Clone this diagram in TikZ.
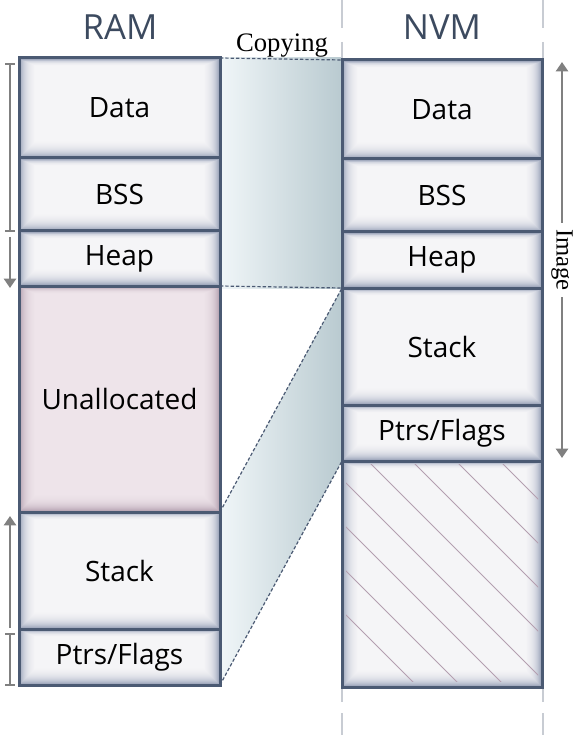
\documentclass[tikz,border=0pt]{standalone}
\usepackage{fontspec}
\setmainfont{Liberation Serif}
\newfontfamily\boxfont{Open Sans}
\usetikzlibrary{arrows.meta,backgrounds}
\definecolor{edge}{HTML}{4B5A73}
\definecolor{hdr}{HTML}{3C4A5F}
\definecolor{basec}{HTML}{A3ABBF}
\definecolor{pinkbase}{HTML}{BBA9B7}
\definecolor{pinkin}{HTML}{F6ECF1}
\definecolor{bandL}{HTML}{F0F6F8}
\definecolor{bandR}{HTML}{B9CAD0}
\definecolor{arr}{HTML}{808080}
\definecolor{hatchc}{HTML}{B49FB0}
\definecolor{guide}{HTML}{C8CCD3}
\tikzset{
  glow/.style={path picture={
    \foreach \k in {1,...,16}{
      \fill[#1,opacity=0.15]
        ([xshift=1.1pt+\k*0.7pt,yshift=-1.1pt-\k*0.3pt]path picture bounding box.north west)
        rectangle ([xshift=-1.1pt-\k*0.7pt,yshift=1.1pt+\k*0.75pt]path picture bounding box.south east);
    }}},
  membox/.style={draw=edge, line width=2.25pt, fill=basec, inner sep=0pt, outer sep=0pt,
    font=\boxfont\fontsize{21}{25}\selectfont, glow=white},
  ramcol/.style={membox, minimum width={201*0.75pt}},
  nvmcol/.style={membox, minimum width={200*0.75pt}},
  ht/.style={minimum height={#1*0.75pt}},
  hdrtext/.style={font=\boxfont\fontsize{26}{30}\selectfont, text=hdr, inner sep=0pt},
  serlabel/.style={font=\fontsize{18.5}{22}\selectfont, text=black},
  garrow/.style={draw=arr, line width=2.2pt},
  copyline/.style={draw=edge, line width=0.9pt, dash pattern=on 2.5pt off 1.5pt},
  guideline/.style={draw=guide, line width=1.5pt},
  hatchline/.style={draw=hatchc, line width=0.7pt},
}
\begin{document}
\begin{tikzpicture}[x=0.75pt,y=-0.75pt]
\useasboundingbox (0,0) rectangle (579,741);

% guide lines
\foreach \gx in {342,543}{
  \draw[guideline] (\gx,0) -- (\gx,28);
  \draw[guideline] (\gx,42) -- (\gx,60);
  \draw[guideline] (\gx,688) -- (\gx,702);
  \draw[guideline] (\gx,713) -- (\gx,735);
}

% headers
\node[hdrtext, anchor=base] (ramh) at (120,40) {RAM};
\node[hdrtext, anchor=base] (nvmh) at (442,40) {NVM};
\node[serlabel, font=\fontsize{20}{24}\selectfont, anchor=base, inner sep=0pt] (copy) at (282,52) {Copying};

% RAM column
\node[ramcol, ht=100] (rData) at (119.5,108) {Data};
\node[ramcol, ht=73] (rBss) at (119.5,194.5) {BSS};
\node[ramcol, ht=55] (rHeap) at (119.5,258.5) {Heap};
\node[ramcol, ht=226, fill=pinkbase, glow=pinkin] (rUnal) at (119.5,399) {Unallocated};
\node[ramcol, ht=117] (rStack) at (119.5,570.5) {Stack};
\node[ramcol, ht=56] (rPtr) at (119.5,657) {Ptrs/Flags};

% NVM column
\node[nvmcol, ht=99] (nData) at (442,109.5) {Data};
\node[nvmcol, ht=73] (nBss) at (442,195.5) {BSS};
\node[nvmcol, ht=56] (nHeap) at (442,260) {Heap};
\node[nvmcol, ht=117] (nStack) at (442,346.5) {Stack};
\node[nvmcol, ht=56] (nPtr) at (442,433) {Ptrs/Flags};
\node[nvmcol, ht=226] (nFree) at (442,574) {};

% hatching
\begin{scope}
  \clip ([xshift=3pt,yshift=-2.5pt]nFree.north west) rectangle ([xshift=-3pt,yshift=4pt]nFree.south east);
  \foreach \c in {39,-5,-49,-93,-137,-181,-225,-269}
    \draw[hatchline] (300,300-\c) -- (700,700-\c);
\end{scope}

% copying bands
\begin{scope}[on background layer]
  \shade[left color=bandL, right color=bandR] (rData.north east) rectangle (nHeap.south west);
  \shade[left color=bandL, right color=bandR] (rUnal.south east) -- (nHeap.south west) -- (nPtr.south west) -- (rPtr.south east) -- cycle;
\end{scope}
\draw[copyline] (rData.north east) -- (nData.north west);
\draw[copyline] (rHeap.south east) -- (nHeap.south west);
\draw[copyline] (rUnal.south east) -- (nHeap.south west);
\draw[copyline] (rPtr.south east) -- (nPtr.south west);

% left arrows
\coordinate (l1) at (10,63);
\coordinate (l2) at (10,232);
\coordinate (l3) at (10,237);
\coordinate (l4) at (10,288);
\coordinate (l5) at (10,516);
\coordinate (l6) at (10,628);
\coordinate (l7) at (10,633);
\coordinate (l8) at (10,686);
\draw[garrow, {Bar[width=7pt,line width=1.5pt]}-{Bar[width=7pt,line width=1.5pt]}] (l1) -- (l2);
\draw[garrow, -{Triangle[width=9pt,length=7pt]}] (l3) -- (l4);
\draw[garrow, {Triangle[width=9pt,length=7pt]}-] (l5) -- (l6);
\draw[garrow, {Bar[width=7pt,line width=1.5pt]}-{Bar[width=7pt,line width=1.5pt]}] (l7) -- (l8);

% right arrow
\coordinate (r1) at (562,62);
\coordinate (r2) at (562,458);
\draw[garrow, {Triangle[width=9pt,length=7pt]}-{Triangle[width=9pt,length=7pt]}] (r1) -- (r2)
  node[midway, fill=white, rotate=-90, serlabel, inner xsep=5pt, inner ysep=1pt] (img) {Image};
\end{tikzpicture}
\end{document}
